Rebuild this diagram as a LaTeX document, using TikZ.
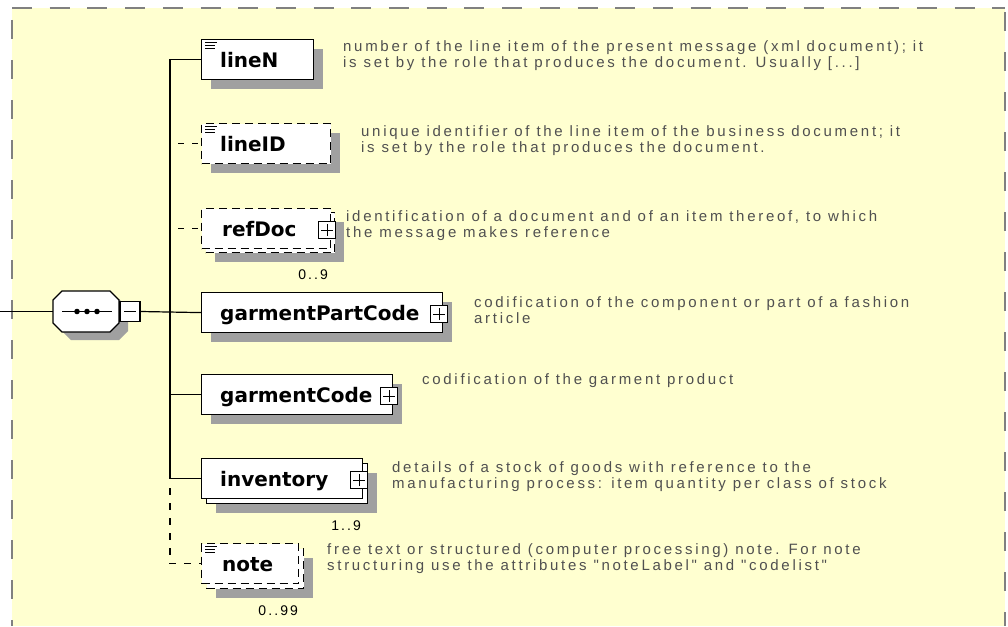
\documentclass[tikz,border=0pt]{standalone}
\usepackage{fontspec}
\setmainfont{Liberation Sans}
\newfontfamily\lblfont{DejaVu Sans}
\newfontfamily\descfont{Liberation Sans}[LetterSpace=18]
\newfontfamily\multfont{Liberation Sans}[LetterSpace=15]
\usetikzlibrary{shadows}
\definecolor{bgyellow}{RGB}{255,255,208}
\definecolor{bordergray}{RGB}{128,128,128}
\definecolor{shadowgray}{RGB}{160,160,160}
\definecolor{descgray}{RGB}{80,80,80}
\tikzset{
  shdw/.style={drop shadow={shadow xshift=9pt, shadow yshift=-9pt, fill=shadowgray, opacity=1}},
  elembase/.style={rectangle, draw=black, line width=1.2pt, fill=white, inner sep=0pt, anchor=north west, minimum height=40pt},
  elem/.style={elembase, shdw},
  optdash/.style={dash pattern=on 8pt off 5pt},
  lbl/.style={font=\lblfont\bfseries\fontsize{20}{24}\selectfont, anchor=base west, inner sep=0pt},
  desc/.style={font=\descfont\fontsize{15}{16}\selectfont, text=descgray, anchor=north west, align=left, inner sep=0pt},
  mult/.style={font=\multfont\fontsize{14}{16}\selectfont, anchor=base east, inner sep=0pt},
  conn/.style={line width=1.2pt},
  optconn/.style={line width=1.2pt, dash pattern=on 6pt off 8pt, dash phase=6pt},
  optconnv/.style={line width=1.2pt, dash pattern=on 7pt off 8pt},
  pm/.style={rectangle, draw=black, line width=1.1pt, fill=white, minimum size=17pt, inner sep=0pt},
  pmsign/.style={line width=1.1pt},
  icon/.style={line width=1pt},
  frame/.style={bordergray, line width=2pt},
}
\newcommand\plussign[1]{\draw[pmsign] ([xshift=-6pt]#1.center) -- ([xshift=6pt]#1.center) ([yshift=-6pt]#1.center) -- ([yshift=6pt]#1.center);}
\newcommand\docicon[1]{\draw[icon] ([shift={(4,3.5)}]#1.north west) -- ++(12,0) ([shift={(4,6.5)}]#1.north west) -- ++(10,0) ([shift={(4,9.5)}]#1.north west) -- ++(10,0);}
\begin{document}
\begin{tikzpicture}[x=1pt,y=-1pt]
\useasboundingbox (0,0) rectangle (1008,626);
\fill[white] (0,0) rectangle (1008,626);
\fill[bgyellow] (12,8) rectangle (1005,626);
\draw[frame, dash pattern=on 20pt off 17.7pt] (12,8) -- (1005,8);
\draw[frame, dash pattern=on 19pt off 21pt] (12,20) -- (12,626);
\draw[frame, dash pattern=on 19pt off 21pt] (1005,12) -- (1005,626);

% compositor (sequence)
\begin{scope}[shift={(9,8)}]
\fill[shadowgray] (62,291) -- (110,291) -- (119,300) -- (119,323) -- (110,332) -- (62,332) -- (53,323) -- (53,300) -- cycle;
\end{scope}
\draw[line width=1.2pt, fill=white] (62,291) -- (110,291) -- (119,300) -- (119,323) -- (110,332) -- (62,332) -- (53,323) -- (53,300) -- cycle;
\node[minimum width=66pt, minimum height=41pt, inner sep=0pt] (seq) at (86,311.5) {};
\node[pm, minimum size=20pt] (seqm) at (130,311.5) {};
\draw[pmsign] ([xshift=-6pt]seqm.center) -- ([xshift=6pt]seqm.center);
\draw[line width=1.2pt] ([xshift=-24pt]seq.center) -- ([xshift=26pt]seq.center);
\foreach \dx in {-9,1,11} \fill ([xshift=\dx pt]seq.center) circle (2.8pt);

% elements
\node[elem, minimum width=112pt] (lineN) at (201,39) {};
\docicon{lineN}
\node[lbl] at ([shift={(19,8)}]lineN.west) {lineN};

\node[elem, optdash, minimum width=129pt] (lineID) at (201,123) {};
\docicon{lineID}
\node[lbl] at ([shift={(19,8)}]lineID.west) {lineID};

\node[elem, optdash, minimum width=129pt] (refDocB) at (205,212) {};
\node[elembase, optdash, minimum width=129pt] (refDoc) at (201,208) {};
\node[lbl] at ([shift={(21,8)}]refDoc.west) {refDoc};
\node[pm] (refDocx) at ([shift={(-4,1.5)}]refDoc.east) {};
\plussign{refDocx}
\node[mult] at ([shift={(-7,26)}]refDocB.south east) {0..9};

\node[elem, minimum width=241pt] (gpc) at (201,292) {};
\node[lbl] at ([shift={(19,8)}]gpc.west) {garmentPartCode};
\node[pm] (gpcx) at ([shift={(-4,1.5)}]gpc.east) {};
\plussign{gpcx}

\node[elem, minimum width=191pt] (gc) at (201,374) {};
\node[lbl] at ([shift={(19,8)}]gc.west) {garmentCode};
\node[pm] (gcx) at ([shift={(-4,1.5)}]gc.east) {};
\plussign{gcx}

\node[elem, minimum width=161pt] (invB) at (206,463) {};
\node[elembase, minimum width=161pt] (inv) at (201,458) {};
\node[lbl] at ([shift={(19,8)}]inv.west) {inventory};
\node[pm] (invx) at ([shift={(-4,1.5)}]inv.east) {};
\plussign{invx}
\node[mult] at ([shift={(-7,26)}]invB.south east) {1..9};

\node[elem, optdash, minimum width=97pt] (noteB) at (206,548) {};
\node[elembase, optdash, minimum width=97pt] (note) at (201,543) {};
\docicon{note}
\node[lbl] at ([shift={(21,8)}]note.west) {note};
\node[mult] at ([shift={(-6,26)}]noteB.south east) {0..99};

% connectors
\coordinate (tr) at (170,0);
\coordinate (src) at (0,311.5);
\coordinate (nt) at (170,488);
\draw[conn] (src) -- (seq.west);
\draw[conn] (seqm.east) -- (gpc.west);
\draw[conn] (lineN.west) -- (lineN.west -| tr) -- (inv.west -| tr) -- (inv.west);
\draw[conn] (gc.west -| tr) -- (gc.west);
\draw[optconn] (lineID.west -| tr) -- (lineID.west);
\draw[optconn] (refDoc.west -| tr) -- (refDoc.west);
\draw[optconnv] (nt) |- (note.west);

% descriptions
\node[desc] (lineNd) at (343,40) {number of the line item of the present message (xml document); it\\is set by the role that produces the document. Usually [...]};
\node[desc] (lineIDd) at (361,125) {unique identifier of the line item of the business document; it\\is set by the role that produces the document.};
\node[desc] (refDocd) at (346,210) {identification of a document and of an item thereof, to which\\the message makes reference};
\node[desc] (gpcd) at (474,296) {codification of the component or part of a fashion\\article};
\node[desc] (gcd) at (422,373) {codification of the garment product};
\node[desc] (invd) at (392,461) {details of a stock of goods with reference to the\\manufacturing process: item quantity per class of stock};
\node[desc] (noted) at (327,543) {free text or structured (computer processing) note. For note\\structuring use the attributes "noteLabel" and "codelist"};
\end{tikzpicture}
\end{document}
